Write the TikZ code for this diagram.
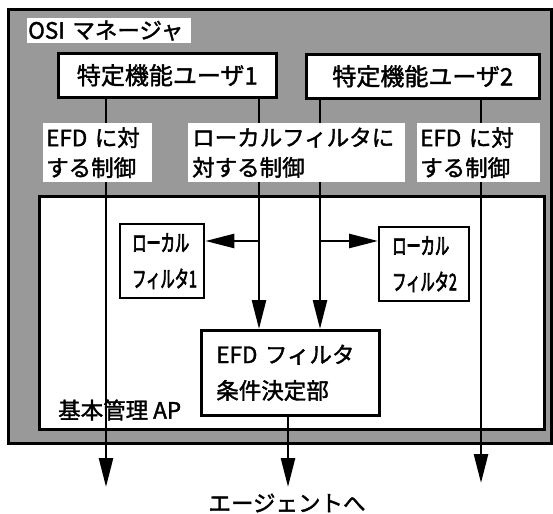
\documentclass[tikz,border=0pt]{standalone}
\usepackage{fontspec}
\setmainfont{Noto Sans CJK JP}[FakeBold=1.6]
\newfontfamily\condfont{Noto Sans CJK JP}[FakeStretch=0.62,FakeBold=2.6]
\usetikzlibrary{arrows.meta}
\begin{document}
\begin{tikzpicture}[x=1pt,y=-1pt,
  frame/.style={draw,line width=2.6pt,inner sep=0pt},
  box/.style={draw,fill=white,line width=2.6pt,inner sep=0pt},
  lfbox/.style={draw,fill=white,line width=2.4pt,inner sep=0pt,align=left,
    font=\condfont\fontsize{23}{36}\selectfont},
  lbl/.style={fill=white,inner sep=0pt,anchor=north west,align=left},
  arr/.style={line width=2.6pt,-{Triangle[length=29pt,width=14pt]}},
  big/.style={font=\fontsize{24}{28}\selectfont},
  med/.style={font=\fontsize{22.5}{30}\selectfont},
  medtall/.style={font=\fontsize{22.5}{36}\selectfont},
]
\useasboundingbox (0,0) rectangle (553,513);
% outer OSI manager frame (shaded)
\node[frame,fill=black!40,anchor=north west,minimum width=543pt,minimum height=434pt] (osi) at (7,8) {};
% inner basic management AP box
\node[box,anchor=north west,minimum width=505pt,minimum height=233pt] (ap) at (38,195) {};
% user boxes
\node[box,big,anchor=north west,minimum width=218pt,minimum height=44pt] (u1) at (57,52) {特定機能ユーザ1};
\node[box,big,anchor=north west,minimum width=233pt,minimum height=44pt] (u2) at (305,53) {特定機能ユーザ2};
% local filters
\node[lfbox,anchor=north west,minimum height=74pt,text width=60pt,inner xsep=12pt] (lf1) at (119,223) {ローカル\\フィルタ1};
\node[lfbox,anchor=north west,minimum height=74pt,text width=64pt,inner xsep=13pt] (lf2) at (378,226) {ローカル\\フィルタ2};
% EFD filter condition decision
\node[box,medtall,align=left,anchor=north west,minimum height=85pt,text width=148pt,inner xsep=15pt] (efd) at (200,329) {EFD フィルタ\\条件決定部};
% plain texts
\node[med,anchor=west,inner sep=0pt] (apl) at (58,410) {基本管理 AP};
\node[med,inner sep=0pt] (agent) at (287,503) {エージェントへ};
% connector end points
\coordinate (e1) at (106,487);
\coordinate (e2) at (259,329);
\coordinate (e3) at (320,329);
\coordinate (e4) at (481,483);
\coordinate (e5) at (288,487);
\coordinate (b1) at (259,241);
\coordinate (b2) at (320,241);
\draw[arr] (u1.south -| e1) -- (e1);
\draw[arr] (u1.south -| e2) -- (e2 |- efd.north);
\draw[arr] (u2.south -| e3) -- (e3 |- efd.north);
\draw[arr] (u2.south -| e4) -- (e4);
\draw[arr] (efd.south -| e5) -- (e5);
\draw[arr] (b1) -- (b1 -| lf1.east);
\draw[arr] (b2) -- (b2 -| lf2.west);
% white labels
\node[lbl,med,minimum height=59pt,text width=103pt,inner xsep=3pt] (l1) at (43,123) {EFD に対\\する制御};
\node[lbl,med,minimum height=59pt,text width=209pt,inner xsep=4pt] (l2) at (188,123) {ローカルフィルタに\\対する制御};
\node[lbl,med,minimum height=59pt,text width=117pt,inner xsep=3pt] (l3) at (417,123) {EFD に対\\する制御};
\node[lbl,med,minimum height=25pt,text width=162pt,inner xsep=1pt] (osil) at (27,18) {OSI マネージャ};
\end{tikzpicture}
\end{document}
